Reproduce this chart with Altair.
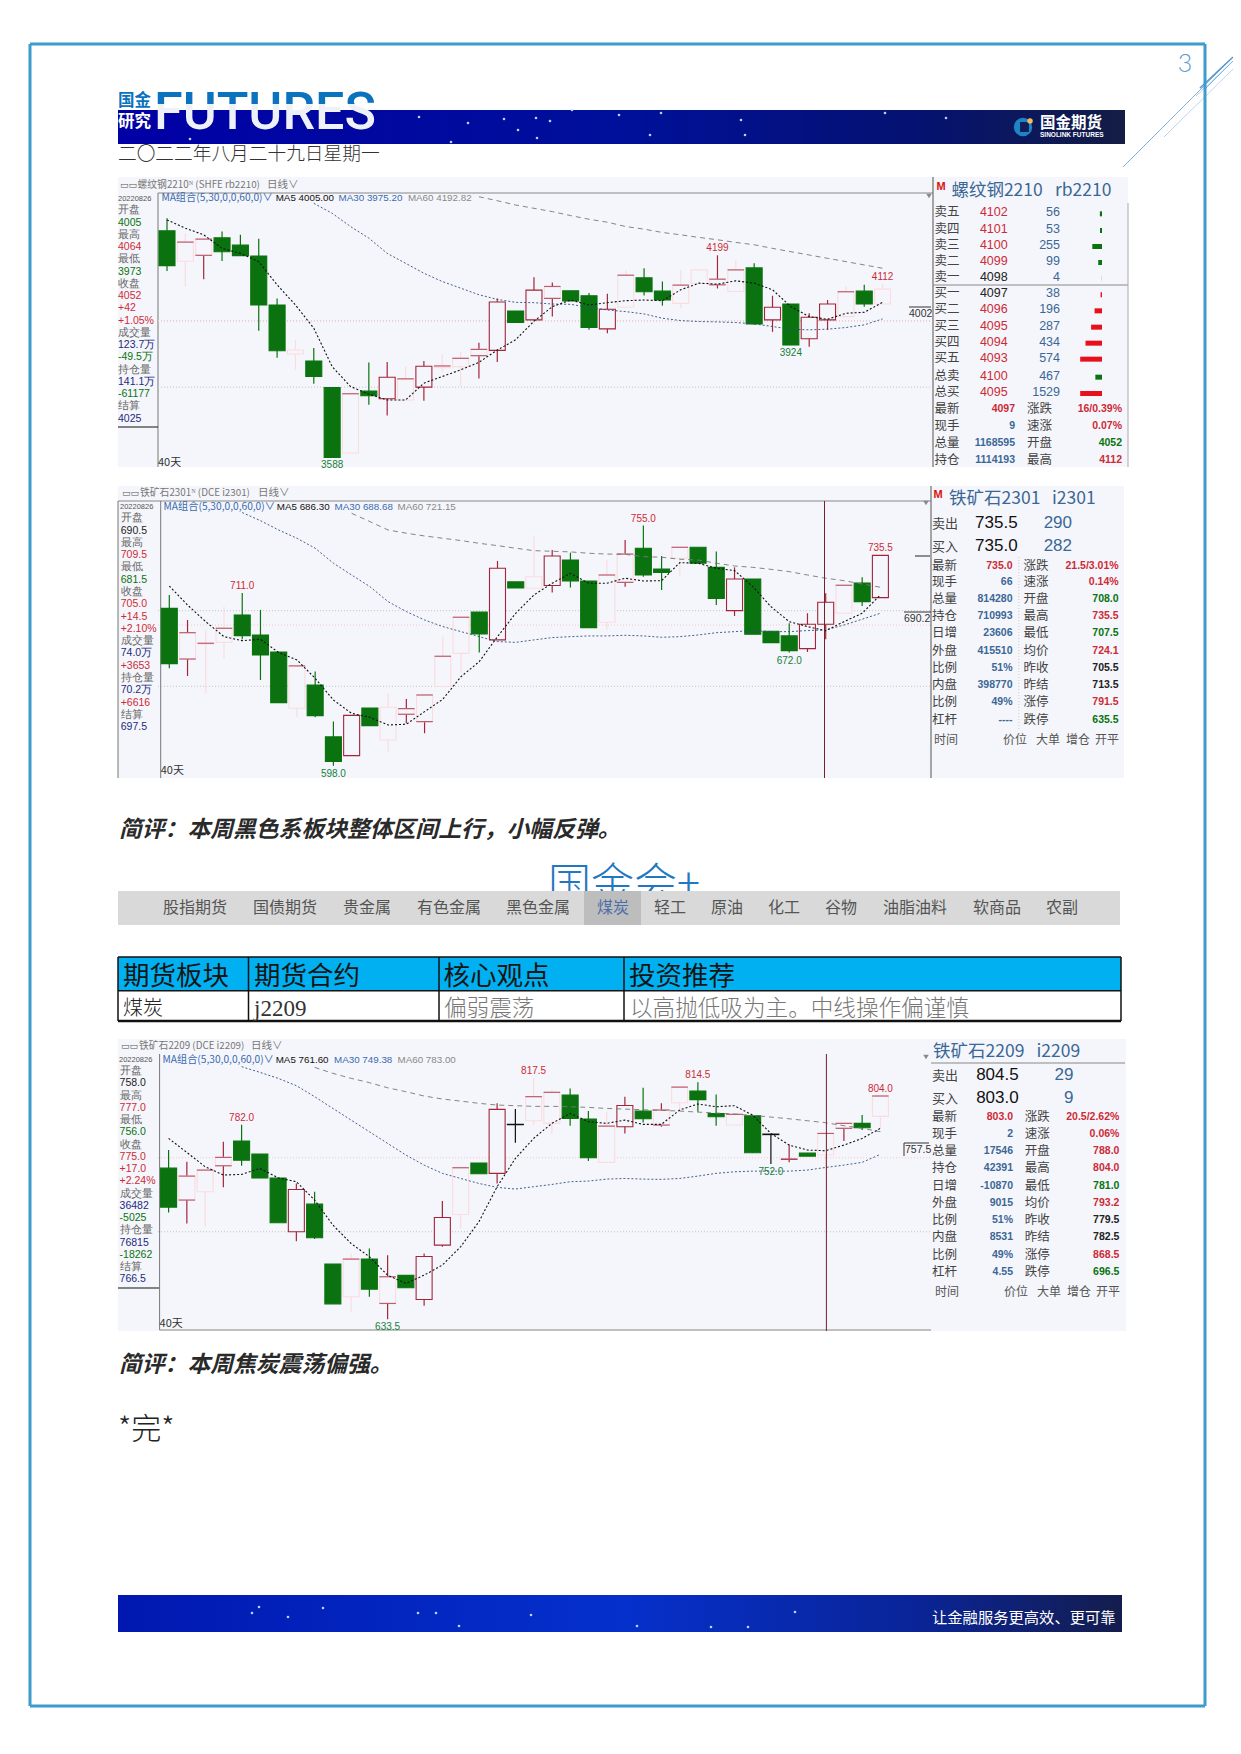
import altair as alt
import pandas as pd

CJK = "Noto Sans CJK SC"
NUM = "Liberation Sans"
BG = "#f5f6fb"
GREEN = "#0a730f"
DARKRED = "#a3253a"
PALE = "#fbdcdf"
RED = "#cc2b36"
TGREEN = "#17803a"
NAVY = "#1c2b7c"
BLUE = "#3b6796"
GREY = "#666666"

# ---------- page texts ----------
DATE_TEXT = "二〇二二年八月二十九日星期一"
COMMENT_1 = "简评：本周黑色系板块整体区间上行，小幅反弹。"
COMMENT_2 = "简评：本周焦炭震荡偏强。"
TABS = ["股指期货", "国债期货", "贵金属", "有色金属", "黑色金属", "煤炭", "轻工", "原油", "化工", "谷物", "油脂油料", "软商品", "农副"]
TABLE_HEAD = ["期货板块", "期货合约", "核心观点", "投资推荐"]
TABLE_ROW = ["煤炭", "j2209", "偏弱震荡", "以高抛低吸为主。中线操作偏谨慎"]

# ---------- panel 1: rb2210 ----------
rb_body_hi = [4273,4239,4248,4252,4230,4197,4049,3913,3880,3800,3781,3789,3831,3826,3864,3865,3888,3915,4058,4031,4094,4105,4092,4077,4036,4139,4131,4091,4109,4155,4127,4155,4161,4042,4052,4012,4052,4089,4091,4097]
rb_body_lo = [4168,4181,4199,4210,4198,4049,3911,3901,3833,3589,3602,3775,3766,3762,3801,3860,3863,3896,3912,3996,4004,4069,4061,3981,3977,4042,4089,4064,4054,4114,4110,4090,3992,4004,3928,3947,4004,4014,4052,4052]
rb_high = [4311,4266,4248,4271,4261,4249,4069,3944,3919,3800,3781,3875,3877,3863,3880,3901,3908,3935,4069,4031,4133,4117,4092,4085,4083,4155,4160,4120,4155,4155,4199,4185,4175,4077,4052,4024,4064,4105,4110,4112]
rb_low = [4152,4105,4127,4182,4198,3971,3890,3853,3811,3589,3602,3748,3715,3762,3760,3846,3803,3827,3877,3996,4004,4014,4061,3974,3964,4042,4078,4047,4039,4114,4099,4090,3989,3968,3928,3923,3974,4014,4044,4052]
rb_tone = list("GEDGGGGPGGEGREREEDRGRDGGREGGEPDEGRGRREGP")
rb_ma5 = [4306,4281,4261,4220,4205,4180,4110,4049,3979,3863,3803,3780,3762,3762,3813,3833,3853,3876,3913,3944,4000,4044,4064,4049,4056,4062,4064,4062,4095,4115,4112,4122,4115,4095,4044,4014,4006,4024,4027,4057]
rb_ma30 = [4356,4326,4286,4251,4205,4175,4145,4120,4100,4080,4066,4057,4056,4052,4051,4042,4034,4029,4022,4009,4002,3999,3998,3996,3992,3984,3976,3974,3976,3981,3989,4007]
rb_ma60 = [4376,4364,4351,4341,4331,4319,4308,4299,4286,4278,4268,4261,4253,4246,4238,4231,4220,4210,4200,4190,4180,4170,4160]
rb_marks = [(30, 4199, "4199", 1), (39, 4112, "4112", 1), (34, 3928, "3924", -1), (9, 3589, "3588", -1)]
rb_hlines = [4001, 3801]
rb_left = ["开盘","4005","最高","4064","最低","3973","收盘","4052","+42","+1.05%","成交量","123.7万","-49.5万","持仓量","141.1万","-61177","结算","4025"]
rb_left_c = [GREY,GREEN,GREY,RED,GREY,GREEN,GREY,RED,RED,RED,GREY,NAVY,GREEN,GREY,NAVY,GREEN,GREY,NAVY]
book_labels = ["卖五","卖四","卖三","卖二","卖一","买一","买二","买三","买四","买五","总卖","总买"]
book_prices = ["4102","4101","4100","4099","4098","4097","4096","4095","4094","4093","4100","4095"]
book_vols = [56,53,255,99,4,38,196,287,434,574,467,1529]
rb_q1 = ["最新","现手","总量","持仓"]
rb_v1 = ["4097","9","1168595","1114193"]
rb_q2 = ["涨跌","速涨","开盘","最高"]
rb_v2 = ["16/0.39%","0.07%","4052","4112"]
rb_v2_c = [RED,RED,GREEN,RED]

# ---------- panel 2: i2301 ----------
i1_body_hi = [700.9,685,678.1,687.9,696.6,683.5,672.4,663.3,650.8,616.9,631,635.8,636.3,635.4,644.3,669.6,695.1,698.5,727.1,718.2,721.6,735.1,732.5,718.8,722.7,736.4,740.2,726.6,740.8,740.8,727.7,720.1,720.1,685.9,682.9,690.5,704.9,716,717.5,735.5]
i1_body_lo = [664.8,667.8,677.6,678.7,683.1,670.5,639.3,635.6,630.8,600.8,604.7,624.3,614.9,631.7,626.9,649.8,671.5,684.2,680.3,714.2,714,715.8,718.8,688.3,691.8,717.9,722.7,724.3,733.6,730.4,707.3,699.4,684,678.5,673.3,674.6,690.5,697.7,705.3,707.9]
i1_high = [709.7,693.3,686.8,702,711,699.9,672.4,663.3,659.6,626.9,631,635.8,645.4,641.7,644.3,682.4,695.1,698.5,731.9,718.2,747.8,739,737.3,718.8,732.5,745.6,755,735.1,740.8,740.8,738,727.7,720.1,685.9,691.1,697.7,710.7,716,721.2,735.5]
i1_low = [661.7,656.7,645.4,668.3,680.7,654.1,639.3,629.7,629.7,598,604.7,624.3,607.3,625.8,619.3,649.8,658.5,672,680.3,714.2,714,711.2,714.5,688.3,686.8,715.1,721.6,712.9,721.6,730.4,703.1,695.9,684,678.5,672,672.4,680.7,697.7,702.5,707.9]
i1_tone = list("GDEEGGGEGGRGPDDEEGRGPRGGEDGGEGGRGGGRREGR")
i1_ma5 = [715.5,703.1,692.2,682.4,679.8,680.7,672,667.2,655.2,641,632.3,629.7,624.7,625.2,633.4,641.5,656.3,666.1,682.4,697.7,709.7,717.3,723.8,717.3,717.3,720.6,718.8,719,730.8,730.4,727.1,725.6,715.1,702,692.2,689,686.3,692.2,697.7,709.7]
i1_ma30 = [763.5,758.2,752.1,746.7,740.2,730.4,722.7,715.1,705.3,698.8,693.3,689,685.7,682.4,679.2,678.7,680.3,681.8,682.4,682.9,682.9,683.3,682.9,682,682.4,683.5,685,685.7,686.4,685.7,685.7,686.4,686.8,690,693.8,697.7]
i1_ma60 = [763,757.6,752.1,750,748.2,746.7,745.2,743.4,741.9,740.2,738.6,738.2,737.8,736.9,736.4,736.2,734.7,734.3,733,732.5,730.4,728.6,727.7,726.4,724.9,722.7,720.6,719,716.8,714.7]
i1_marks = [(4, 711, "711.0", 1), (26, 755, "755.0", 1), (39, 735.5, "735.5", 1), (34, 672, "672.0", -1), (9, 598, "598.0", -1)]
i1_hlines = [699.4, 650]
i1_left = ["开盘","690.5","最高","709.5","最低","681.5","收盘","705.0","+14.5","+2.10%","成交量","74.0万","+3653","持仓量","70.2万","+6616","结算","697.5"]
i1_left_c = [GREY,"#222222",GREY,RED,GREY,GREEN,GREY,RED,RED,RED,GREY,NAVY,RED,GREY,NAVY,RED,GREY,NAVY]
q1_labels = ["最新","现手","总量","持仓","日增","外盘","比例","内盘","比例","杠杆"]
q2_labels = ["涨跌","速涨","开盘","最高","最低","均价","昨收","昨结","涨停","跌停"]
i1_v1 = ["735.0","66","814280","710993","23606","415510","51%","398770","49%","----"]
i1_v2 = ["21.5/3.01%","0.14%","708.0","735.5","707.5","724.1","705.5","713.5","791.5","635.5"]
i1_v2_c = [RED,RED,GREEN,RED,GREEN,RED,"#222222","#222222",RED,GREEN]
foot_labels = ["价位","大单","增仓","开平"]

# ---------- panel 3: i2209 ----------
i2_body_hi = [748.9,742.8,747.4,757.1,769.6,759.6,741.3,732.6,721.4,675.6,679.4,679.4,665.9,667.1,681.4,711.2,749.2,752.8,793.8,782.3,803.5,806.8,804.7,786.4,781,796.8,792.5,793.3,810.8,807.8,790.5,790,788.9,774.9,755.8,760.4,775.4,783.1,783.1,804]
i2_body_lo = [719.1,724.5,730.9,750.7,755,741.3,707.2,700.3,695.7,645.2,650.6,656.4,645.5,657.5,648.5,690.1,713.5,744.6,744.9,782.1,785.1,783.1,786.9,756.8,753.3,780.5,786.6,781.8,798.9,801.2,788.2,781.8,760.7,774.5,755.6,758.1,758.9,779.3,779.8,788.4]
i2_high = [762.7,753.8,747.4,769.1,782,759.6,741.3,737.2,730.9,675.6,683.7,687.5,682.4,667.1,683.7,723.7,749.2,752.8,798.4,794,817.5,808.6,809.8,792.5,792,803.5,810.3,798.4,810.8,814.5,805.2,790,788.9,774.9,767,760.4,775.4,783.1,789.4,804]
i2_low = [715,706.6,704.1,734.2,750.7,741.3,707.2,693.1,694.7,645.2,639.1,650.6,633.5,657.5,643.7,688.8,702.8,744.6,737.2,768.3,781.8,775.4,781.3,754.3,753.3,775.4,783.8,780.5,792.8,792,781.3,781.8,760.7,752,753.3,758.1,748.7,769.6,778,779.3]
i2_tone = list("GDEDGGGRGGEGDGRREGRKEEGGERGDEGGEGKDGEDGE")
i2_ma5 = [771.6,760.9,750,743.6,744.1,748.7,741.5,738.5,724.5,705.4,691.3,681.2,667.1,660.8,667.1,674.8,688.8,707.9,734.7,756.3,771.6,783.1,790.7,784.4,783.1,785.6,782.3,782.3,793.3,797.9,795.8,796.6,789.4,775.4,766.5,762.7,762.2,766.5,771.6,779.3]
i2_ma30 = [826.4,822.1,817.5,811.9,803.5,794.5,785.6,776.7,767.8,758.9,751.2,744.9,741,737.2,734.2,732.9,734.7,736.4,738.5,739,740.5,741,740.5,740.3,741,742.8,744.9,746.1,746.6,746.6,746.6,747.4,749.4,751.2,753.3,759.4]
i2_ma60 = [825.9,821.3,817.5,814.2,810.3,807.3,804,801.7,800.1,798.4,797.1,796.6,796.1,796.1,795.8,795.3,794.5,794,793.5,793,792.5,791.7,791,790.2,789.2,787.9,786.6,785.1,783.6,781.3,779.3,776.7]
i2_marks = [(4, 782, "782.0", 1), (20, 817.5, "817.5", 1), (29, 814.5, "814.5", 1), (39, 804, "804.0", 1), (33, 752, "752.0", -1), (12, 633.5, "633.5", -1)]
i2_hlines = [700.3]
i2_left = ["开盘","758.0","最高","777.0","最低","756.0","收盘","775.0","+17.0","+2.24%","成交量","36482","-5025","持仓量","76815","-18262","结算","766.5"]
i2_left_c = [GREY,"#222222",GREY,RED,GREY,GREEN,GREY,RED,RED,RED,GREY,NAVY,GREEN,GREY,NAVY,GREEN,GREY,NAVY]
i2_v1 = ["803.0","2","17546","42391","-10870","9015","51%","8531","49%","4.55"]
i2_v2 = ["20.5/2.62%","0.06%","788.0","804.0","781.0","793.2","779.5","782.5","868.5","696.5"]
i2_v2_c = [RED,RED,RED,RED,GREEN,RED,"#222222","#222222",RED,GREEN]

# ---------- banner sparkles ----------
top_star_x = [419,468,504,536,550,518,537,451,190,619,572,650,661,741,745,885,946]
top_star_y = [117,123,119,118,121,130,138,142,139,115,110,135,113,120,135,113,118]
bot_star_x = [323,418,436,288,459,637,711,748,795,259,252,531]
bot_star_y = [1608,1613,1613,1617,1626,1626,1627,1627,1612,1607,1613,1615]

layers = []


def listify(v, n):
    return list(v) if isinstance(v, (list, tuple)) else [v] * n


def T(text, x, y, size=11, color="#333333", align="left", weight="normal",
      font=CJK, style="normal", baseline="middle"):
    text = listify(text, 1)
    n = len(text)
    df = pd.DataFrame({
        "t": text,
        "x": [v - 8 for v in listify(x, n)],
        "y": [v - 8 for v in listify(y, n)],
        "c": listify(color, n),
    })
    layers.append(alt.Chart(df).mark_text(
        align=align, baseline=baseline, fontSize=size, font=font,
        fontWeight=weight, fontStyle=style
    ).encode(
        x=alt.X("x:Q", scale=None, axis=None),
        y=alt.Y("y:Q", scale=None, axis=None),
        text="t:N",
        color=alt.Color("c:N", scale=None, legend=None),
    ))


def rect(x0, y0, x1, y1, color, **kw):
    df = pd.DataFrame({"a": [x0 - 8], "b": [x1 - 8], "c": [y0 - 8], "d": [y1 - 8]})
    layers.append(alt.Chart(df).mark_rect(color=color, **kw).encode(
        x=alt.X("a:Q", scale=None, axis=None), x2="b",
        y=alt.Y("c:Q", scale=None, axis=None), y2="d"))


def line(x0, y0, x1, y1, color="#888888", width=1, dash=None):
    df = pd.DataFrame({"a": [x0 - 8], "b": [x1 - 8], "c": [y0 - 8], "d": [y1 - 8]})
    kw = {"strokeDash": dash} if dash else {}
    layers.append(alt.Chart(df).mark_rule(color=color, strokeWidth=width, **kw).encode(
        x=alt.X("a:Q", scale=None, axis=None), x2="b",
        y=alt.Y("c:Q", scale=None, axis=None), y2="d"))


def stars(xs, ys, size=7):
    df = pd.DataFrame({"x": [v - 8 for v in xs], "y": [v - 8 for v in ys]})
    layers.append(alt.Chart(df).mark_circle(color="#cfe6ff", opacity=0.9, size=size).encode(
        x=alt.X("x:Q", scale=None, axis=None),
        y=alt.Y("y:Q", scale=None, axis=None)))


def dot(x, y, size, color, shape="circle"):
    df = pd.DataFrame({"x": [x - 8], "y": [y - 8]})
    layers.append(alt.Chart(df).mark_point(shape=shape, filled=True, color=color, opacity=1, size=size).encode(
        x=alt.X("x:Q", scale=None, axis=None),
        y=alt.Y("y:Q", scale=None, axis=None)))


def grad(stops, vertical=False):
    return alt.LinearGradient(
        gradient="linear",
        stops=[alt.GradientStop(color=c, offset=o) for o, c in stops],
        x1=0, x2=0 if vertical else 1, y1=0, y2=1 if vertical else 0)


def candles(x0, x1, ybot, ytop, dom, hi, lo, high, low, tone, ma5, ma30, ma60, marks, hl_grey, pink):
    sx = alt.Scale(domain=[0, 39], range=[x0 - 8, x1 - 8], nice=False, zero=False, padding=0)
    sy = alt.Scale(domain=dom, range=[ybot - 8, ytop - 8], nice=False, zero=False, padding=0)
    X = alt.X("i:Q", scale=sx, axis=None)

    def Y(f):
        return alt.Y(f + ":Q", scale=sy, axis=None)

    df = pd.DataFrame({"i": range(40), "hi": hi, "lo": lo, "h": high, "l": low, "tone": tone})
    hline = pd.DataFrame({"p": hl_grey})
    layers.append(alt.Chart(hline).mark_rule(color="#c4c4c4", strokeDash=[1, 2]).encode(
        y=Y("p"), x=alt.value(158 - 8), x2=alt.value(931 - 8)))
    layers.append(alt.Chart(pd.DataFrame({"p": [pink]})).mark_rule(color="#f4c5c8", strokeDash=[1, 2]).encode(
        y=Y("p"), x=alt.value(158 - 8), x2=alt.value(931 - 8)))
    wick = {"G": GREEN, "R": DARKRED, "D": DARKRED, "E": PALE, "P": PALE, "K": "#111111"}
    for t, c in wick.items():
        d = df[df.tone == t]
        layers.append(alt.Chart(d).mark_rule(color=c, strokeWidth=1.2).encode(x=X, y=Y("h"), y2="l"))
    body = {"G": (GREEN, GREEN), "R": (BG, DARKRED), "D": (BG, PALE), "E": (BG, PALE), "P": (BG, PALE), "K": (BG, "#111111")}
    for t, (f, s) in body.items():
        d = df[df.tone == t]
        layers.append(alt.Chart(d).mark_bar(size=16, color=f, stroke=s, strokeWidth=1.1).encode(x=X, y=Y("hi"), y2="lo"))
    d = df[df.tone.isin(["D", "E"])]
    for f in ("hi", "lo"):
        dd = d if f == "hi" else d[d.tone == "D"]
        layers.append(alt.Chart(dd).mark_tick(orient="horizontal", size=16.5, thickness=1.2, color=DARKRED).encode(x=X, y=Y(f)))
    for vals, color, dash, w in ((ma60, "#777777", [5, 4], 0.9), (ma30, "#2f4f7f", [2, 2], 0.9), (ma5, "#111111", [2, 2], 1.1)):
        s = 40 - len(vals)
        m = pd.DataFrame({"i": range(s, 40), "v": vals})
        layers.append(alt.Chart(m).mark_line(color=color, strokeDash=dash, strokeWidth=w).encode(x=X, y=Y("v")))
    for sign, col in ((1, RED), (-1, TGREEN)):
        lab = pd.DataFrame([{"i": a, "v": b, "t": c} for a, b, c, sg in marks if sg == sign])
        layers.append(alt.Chart(lab).mark_text(color=col, fontSize=10, font=NUM, dy=-7 if sign == 1 else 8).encode(
            x=X, y=Y("v"), text="t:N"))


# ---------- page frame and header ----------
rect(8, 8, 1233, 1746, "#ffffff")
for args in (((1123, 167, 1233, 57), "#4f8fcb", 0.7), ((1200, 88, 1233, 57), "#5a97d0", 1.6),
             ((1204, 90, 1233, 61), "#7fb3df", 1.0), ((1164, 137, 1233, 69), "#a8cbea", 0.8),
             ((1196, 96, 1233, 61), "#8bb8e0", 0.6)):
    line(*args[0], color=args[1], width=args[2])
line(30, 44, 1205, 44, "#3d9ccb", 3)
line(30, 1706, 1205, 1706, "#3d9ccb", 3)
line(30, 44, 30, 1706, "#3d9ccb", 3)
line(1205, 44, 1205, 1706, "#3d9ccb", 3)
T("3", 1185, 64, size=25, color="#5b9bd5", align="center", font="Lato", weight=300)

rect(118, 110, 1125, 144, grad([(0, "#0000a6"), (0.5, "#00109a"), (0.8, "#051270"), (1, "#131d45")]))
stars(top_star_x, top_star_y)
T("国金", 118, 101, size=16.5, color="#0b72bd", weight="bold")
T("研究", 118, 122, size=16.5, color="#ffffff", weight="bold")
layers.append(alt.Chart(pd.DataFrame({"t": ["FUTURES"], "x": [146], "y": [121]})).mark_text(
    align="left", baseline="alphabetic", font="Roboto", fontSize=52, fontWeight=500,
    color=grad([(0, "#0b72bd"), (0.37, "#0b72bd"), (0.37, "#eef1f8"), (1, "#eef1f8")], vertical=True)
).encode(x=alt.X("x:Q", scale=None, axis=None), y=alt.Y("y:Q", scale=None, axis=None), text="t:N"))
dot(1023, 127, 340, "#1d84c6")
rect(1020, 122, 1029, 132, "#101f5c")
dot(1030, 121, 30, "#f4b860")
T("国金期货", 1040, 122.5, size=15.5, color="#ffffff", weight="bold")
T("SINOLINK FUTURES", 1040, 135, size=6.5, color="#ffffff", weight="bold", font=NUM)
T(DATE_TEXT, 118, 154, size=18.7, color="#333333", weight=300)

# ---------- panel 1 ----------
rect(118, 177, 1128, 467, BG)
line(158, 193, 933, 193, "#888888", 1)
line(158, 193, 158, 467, "#777777", 1)
line(118, 427, 158, 427, "#111111", 1.2)
line(933, 177, 933, 467, "#555555", 1)
line(933, 285, 1128, 285, "#888888", 1)
line(1128, 203, 1128, 467, "#aaaaaa", 1)
candles(167, 882.6, 486.8, 155.66, [3500, 4500], rb_body_hi, rb_body_lo, rb_high, rb_low, rb_tone,
        rb_ma5, rb_ma30, rb_ma60, rb_marks, rb_hlines, rb_hlines[0])
T("▭▭", 120, 185, size=9, color="#555555", font="DejaVu Sans")
T("螺纹钢2210ᴺ (SHFE rb2210)", 137.5, 185, size=9.8, color="#777777")
T("日线∨", 267, 185, size=10.5, color="#777777")
T("20220826", 118, 199, size=7.5, color="#555555", font=NUM)
T("MA组合(5,30,0,0,60,0)∨", 161.4, 198.3, size=10.2, color="#3a6ab0")
T("MA5 4005.00", 275.7, 198.3, size=9.8, color="#111111", font=NUM)
T("MA30 3975.20", 338.6, 198.3, size=9.8, color="#3a6ab0", font=NUM)
T("MA60 4192.82", 407.9, 198.3, size=9.8, color="#888888", font=NUM)
T(rb_left, 118, [210.3 + i * 12.25 for i in range(18)], size=10.5, color=rb_left_c, font=NUM)
T("40天", 158, 463, size=11, color="#333333")
T("M", 941, 187, size=11, color="#dd1111", weight="bold", align="center", font=NUM)
T("螺纹钢2210", 951.4, 191, size=17.5, color=BLUE)
T("rb2210", 1055, 191, size=17.5, color=BLUE)
book_z = [127, 177, 225, 273, 320, 370, 418, 467, 515, 563, 617, 666]
book_y = [170 + z / 3 for z in book_z]
T(book_labels, 934.4, book_y, size=12.5, color="#444444")
T(book_prices, 1007.7, book_y, size=12.5, align="right", font=NUM,
  color=[RED, RED, RED, RED, "#222222", "#222222", RED, RED, RED, RED, RED, RED])
T([str(v) for v in book_vols], 1060, book_y, size=12.5, align="right", color=BLUE, font=NUM)
for vals, rows, dmax, col in ((book_vols[:5], book_y[:5], 574, GREEN), (book_vols[5:10], book_y[5:10], 574, "#e8101a"),
                              (book_vols[10:11], book_y[10:11], 1529, GREEN), (book_vols[11:12], book_y[11:12], 1529, "#e8101a")):
    d = pd.DataFrame({"v": vals, "v0": [0] * len(vals),
                      "a": [r - 1 - 8 for r in rows], "b": [r + 4 - 8 for r in rows]})
    layers.append(alt.Chart(d).mark_rect(color=col).encode(
        x=alt.X("v:Q", scale=alt.Scale(domain=[0, dmax], range=[1094, 1072.2], nice=False, zero=False), axis=None),
        x2="v0",
        y=alt.Y("a:Q", scale=None, axis=None), y2="b"))
low_y = [170 + z / 3 for z in (717, 768, 818, 870)]
T(rb_q1, 934.4, low_y, size=12.5, color="#444444")
T(rb_v1, 1015, low_y, size=10.5, align="right", weight="bold", font=NUM, color=[RED, BLUE, BLUE, BLUE])
T(rb_q2, 1027, low_y, size=12.5, color="#444444")
T(rb_v2, 1122, low_y, size=10.5, align="right", weight="bold", font=NUM, color=rb_v2_c)
line(909, 307, 931, 307, "#333333", 1)
T("4002", 909, 314, size=10.5, color="#333333", font=NUM)
dot(929, 196, 30, "#888888", "triangle-down")

# ---------- panel 2 ----------
rect(118, 486, 1124, 778, BG)
line(118, 501, 931, 501, "#888888", 1)
line(118, 501, 118, 778, "#777777", 1)
line(160.7, 501, 160.7, 778, "#777777", 1)
line(931, 486, 931, 778, "#555555", 1)
candles(169.3, 880.4, 824.0, 456.7, [560, 800], i1_body_hi, i1_body_lo, i1_high, i1_low, i1_tone,
        i1_ma5, i1_ma30, i1_ma60, i1_marks, i1_hlines, 690)
line(824.5, 501, 824.5, 778, "#7a1f2e", 1)
T("▭▭", 122, 493, size=9, color="#555555", font="DejaVu Sans")
T("铁矿石2301ᴺ (DCE i2301)", 140, 493, size=9.8, color="#777777")
T("日线∨", 258, 493, size=10.5, color="#777777")
T("20220826", 120, 507, size=7.5, color="#555555", font=NUM)
T("MA组合(5,30,0,0,60,0)∨", 163.6, 507, size=10.2, color="#3a6ab0")
T("MA5 686.30", 276.8, 507, size=9.8, color="#111111", font=NUM)
T("MA30 688.68", 334.6, 507, size=9.8, color="#3a6ab0", font=NUM)
T("MA60 721.15", 397.5, 507, size=9.8, color="#888888", font=NUM)
T(i1_left, 120.7, [518.3 + i * 12.29 for i in range(18)], size=10.5, color=i1_left_c, font=NUM)
T("40天", 160.7, 771, size=11, color="#333333")
T("M", 938, 495, size=11, color="#dd1111", weight="bold", align="center", font=NUM)
T("铁矿石2301", 949, 499, size=17.5, color=BLUE)
T("i2301", 1052, 499, size=17.5, color=BLUE)
T(["卖出", "买入"], 932, [524, 547.3], size=13, color="#444444")
T(["735.5", "735.0"], 1017.6, [523, 545.5], size=17, color="#111111", align="right", font=NUM)
T(["290", "282"], 1072, [523, 545.5], size=17, color=BLUE, align="right", font=NUM)
r2 = [480 + z / 3 for z in (257, 306, 356, 408, 460, 512, 563, 615, 667, 719)]
T(q1_labels, 932, r2, size=12.5, color="#444444")
T(i1_v1, 1012.5, r2, size=10.5, align="right", weight="bold", font=NUM, color=[RED] + [BLUE] * 9)
line(1018.8, 557, 1018.8, 730, "#cccccc", 1, [1, 2])
T(q2_labels, 1023.6, r2, size=12.5, color="#444444")
T(i1_v2, 1118.6, r2, size=10.5, align="right", weight="bold", font=NUM, color=i1_v2_c)
T("时间", 934, 740, size=12, color="#555555")
T(foot_labels, [1015, 1048, 1078, 1107], 740, size=12, color="#555555", align="center")
line(915, 556, 930, 556, "#222222", 1)
line(904, 612, 931, 612, "#333333", 1)
T("690.2", 904, 619, size=10.5, color="#333333", font=NUM)
dot(926, 503, 30, "#888888", "triangle-down")

# ---------- news strip and table ----------
T(COMMENT_1, 119, 830, size=22.8, color="#2a2a2a", weight="bold", style="italic")
T("国金会+", 548, 886, size=43, color="#1f78c1", weight=300)
rect(118, 891, 1120, 925, "#d9d9d9")
rect(584, 891, 641, 925, "#bdbdbd")
T(TABS, [195, 285, 367, 449, 538, 613, 670, 727, 784, 841, 915, 997, 1062], 908, size=16, align="center",
  color=["#555555"] * 5 + ["#4d6ea8"] + ["#555555"] * 7)
rect(118, 957, 1121, 990.7, "#00b0f0")
for xv in (118, 248.5, 439, 624, 1121):
    line(xv, 957, xv, 1021, "#111111", 1.5)
line(118, 957, 1121, 957, "#111111", 1.5)
line(118, 990.7, 1121, 990.7, "#111111", 1.5)
line(118, 1021, 1121, 1021, "#111111", 2.5)
T(TABLE_HEAD, [123, 254, 443.5, 629], 977, size=26.5, color="#151515")
T(TABLE_ROW[0], 123, 1009, size=20, color="#222222", weight=300)
T(TABLE_ROW[1], 254, 1009, size=23, color="#333333", font="Liberation Serif")
T(TABLE_ROW[2:], [444, 630], 1009, size=22.6, color="#777777", weight=300)

# ---------- panel 3 ----------
rect(118, 1039, 1126, 1331, BG)
line(159.6, 1054, 159.6, 1330, "#777777", 1)
line(118, 1288, 159, 1288, "#111111", 1.2)
line(159.6, 1330, 931, 1330, "#888888", 1.2)
line(931, 1063, 1125, 1063, "#888888", 1)
candles(168.6, 880.4, 1363, 1035.8, [600, 850], i2_body_hi, i2_body_lo, i2_high, i2_low, i2_tone,
        i2_ma5, i2_ma30, i2_ma60, i2_marks, i2_hlines, 756.8)
line(826.4, 1054, 826.4, 1331, "#7a1f2e", 1)
T("▭▭", 121, 1045.5, size=9, color="#555555", font="DejaVu Sans")
T("铁矿石2209 (DCE i2209)", 139, 1045.5, size=9.8, color="#777777")
T("日线∨", 251, 1045.5, size=10.5, color="#777777")
T("20220826", 119, 1060, size=7.5, color="#555555", font=NUM)
T("MA组合(5,30,0,0,60,0)∨", 162.5, 1059.5, size=10.2, color="#3a6ab0")
T("MA5 761.60", 275.7, 1059.5, size=9.8, color="#111111", font=NUM)
T("MA30 749.38", 334, 1059.5, size=9.8, color="#3a6ab0", font=NUM)
T("MA60 783.00", 397.5, 1059.5, size=9.8, color="#888888", font=NUM)
T(i2_left, 119.6, [1071 + i * 12.25 for i in range(18)], size=10.5, color=i2_left_c, font=NUM)
T("40天", 159.6, 1323.5, size=11, color="#333333")
T("铁矿石2209", 933, 1052, size=17.5, color=BLUE)
T("i2209", 1036.5, 1052, size=17.5, color=BLUE)
T(["卖出", "买入"], 932, [1076, 1099], size=13, color="#444444")
T(["804.5", "803.0"], 1018.7, [1075, 1097.5], size=17, color="#111111", align="right", font=NUM)
T(["29", "9"], 1073.5, [1075, 1097.5], size=17, color=BLUE, align="right", font=NUM)
r3 = [1035 + z / 3 for z in (246, 297, 348, 400, 452, 503, 555, 607, 659, 711)]
T(q1_labels, 932, r3, size=12.5, color="#444444")
T(i2_v1, 1013, r3, size=10.5, align="right", weight="bold", font=NUM, color=[RED] + [BLUE] * 9)
T(q2_labels, 1024.7, r3, size=12.5, color="#444444")
T(i2_v2, 1119.4, r3, size=10.5, align="right", weight="bold", font=NUM, color=i2_v2_c)
T("时间", 935, 1292, size=12, color="#555555")
T(foot_labels, [1016, 1049, 1079, 1108], 1292, size=12, color="#555555", align="center")
line(904, 1143, 929, 1143, "#333333", 1)
line(904, 1143, 904, 1156, "#333333", 1)
T("757.5", 905, 1150, size=10.5, color="#333333", font=NUM)
dot(926, 1057, 30, "#888888", "triangle-down")

# ---------- footer ----------
T(COMMENT_2, 119, 1365, size=22.8, color="#2a2a2a", weight="bold", style="italic")
T("*完*", 118, 1430, size=30, color="#222222", weight=300)
rect(118, 1595, 1122, 1632, grad([(0, "#0018b0"), (0.5, "#0530cc"), (0.8, "#0a2496"), (1, "#141d4d")]))
stars(bot_star_x, bot_star_y)
T("让金融服务更高效、更可靠", 932, 1618, size=15.3, color="#ffffff")

chart = alt.layer(*layers).resolve_scale(x="independent", y="independent", color="independent").properties(
    width=1225, height=1738, padding=0,
    autosize=alt.AutoSizeParams(type="none", contains="content"),
    background="#ffffff",
).configure_view(stroke=None)

chart.save("out.html", embed_options={"renderer": "svg", "actions": False})
